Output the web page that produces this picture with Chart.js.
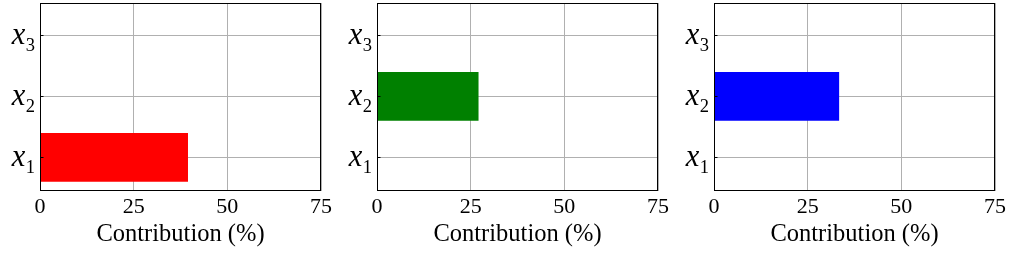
<!DOCTYPE html>
<html>
<head>
<meta charset="utf-8">
<script src="https://cdn.jsdelivr.net/npm/chart.js@4.4.0/dist/chart.umd.min.js"></script>
<style>
  html, body { margin: 0; padding: 0; background: #fff; }
  #wrap { position: relative; width: 1015px; height: 254px; }
  .panel { position: absolute; top: 0; width: 337px; height: 254px; }
  canvas { display: block; }
</style>
</head>
<body>
<div id="wrap">
  <div class="panel" style="left:0px"><canvas id="c0" width="337" height="254"></canvas></div>
  <div class="panel" style="left:337px"><canvas id="c1" width="337" height="254"></canvas></div>
  <div class="panel" style="left:674px"><canvas id="c2" width="337" height="254"></canvas></div>
</div>
<script>
// ---- data ----
const categories = ['x1', 'x2', 'x3'];
const categoryPositions = [1, 2, 3];
const seriesA = [39.5, 0, 0];
const seriesB = [0, 27.1, 0];
const seriesC = [0, 33.4, 0];
const xTicks = [0, 25, 50, 75];
const xTitle = 'Contribution (%)';

const panels = [
  { id: 'c0', values: seriesA, color: '#ff0000' },
  { id: 'c1', values: seriesB, color: '#008000' },
  { id: 'c2', values: seriesC, color: '#0000ff' }
];

const SERIF = '"Liberation Serif", "Times New Roman", serif';

const framePlugin = {
  id: 'frame',
  afterDraw(chart) {
    const { ctx, chartArea: a } = chart;
    const ys = chart.scales.y;
    ctx.save();
    ctx.strokeStyle = '#000';
    ctx.lineWidth = 1;
    categoryPositions.forEach(p => {
      const py = Math.round(ys.getPixelForValue(p)) + 0.5;
      ctx.beginPath();
      ctx.moveTo(a.left, py);
      ctx.lineTo(a.left + 3.5, py);
      ctx.stroke();
    });
    ctx.strokeRect(Math.round(a.left) + 0.5, Math.round(a.top) + 0.5,
                   Math.round(a.right - a.left) - 1, Math.round(a.bottom - a.top) - 1);
    ctx.fillStyle = '#000';
    ctx.textBaseline = 'alphabetic';
    categories.forEach((lab, i) => {
      const py = ys.getPixelForValue(categoryPositions[i]);
      const main = lab.charAt(0);
      const sub = lab.slice(1);
      ctx.font = '18.5px ' + SERIF;
      const sw = ctx.measureText(sub).width;
      const right = a.left - 5;
      ctx.textAlign = 'right';
      ctx.fillText(sub, right, py + 15.5);
      ctx.font = 'italic 30.5px ' + SERIF;
      ctx.fillText(main, right - sw - 0.5, py + 9);
    });
    ctx.restore();
  }
};

panels.forEach(p => {
  new Chart(document.getElementById(p.id), {
    type: 'bar',
    data: {
      datasets: [{
        data: categoryPositions.map((pos, i) => ({ x: p.values[i], y: pos })),
        backgroundColor: p.color,
        borderWidth: 0,
        barPercentage: 0.8,
        categoryPercentage: 1.0
      }]
    },
    options: {
      indexAxis: 'y',
      responsive: false,
      maintainAspectRatio: false,
      animation: false,
      devicePixelRatio: 1,
      layout: { padding: { left: 0, right: 16, top: 3, bottom: 0 } },
      plugins: { legend: { display: false }, tooltip: { enabled: false } },
      scales: {
        x: {
          type: 'linear',
          min: xTicks[0],
          max: xTicks[xTicks.length - 1],
          offset: false,
          z: 1,
          afterBuildTicks(s) { s.ticks = xTicks.map(v => ({ value: v })); },
          afterFit(s) { s.height = 63; },
          grid: { color: '#b0b0b0', lineWidth: 1, tickLength: 0, drawTicks: false, offset: false },
          border: { display: false },
          ticks: { color: '#000', font: { family: SERIF, size: 22 }, padding: 3, maxRotation: 0 },
          title: { display: true, text: xTitle, color: '#000', font: { family: SERIF, size: 24.5 }, padding: { top: 0, bottom: 5 } }
        },
        y: {
          type: 'linear',
          min: 0.45,
          max: 3.53,
          offset: false,
          z: 1,
          afterBuildTicks(s) { s.ticks = categoryPositions.map(v => ({ value: v })); },
          afterFit(s) { s.width = 40; },
          grid: { color: '#b0b0b0', lineWidth: 1, tickLength: 0, drawTicks: false, offset: false },
          border: { display: false },
          ticks: { display: false }
        }
      }
    },
    plugins: [framePlugin]
  });
});
</script>
</body>
</html>
